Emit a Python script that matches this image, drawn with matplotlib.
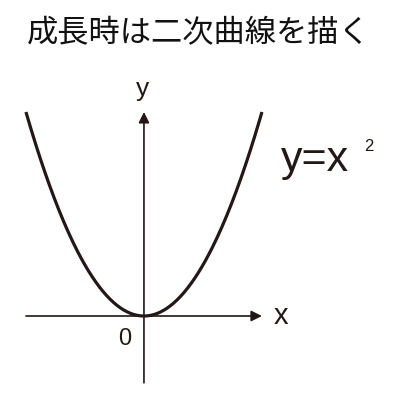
import numpy as np
import matplotlib
matplotlib.use("Agg")
import matplotlib.pyplot as plt

# curve data: y = x^2 drawn from x = -2 .. 2
x_values = np.linspace(-2.0, 2.0, 201)
y_values = x_values ** 2

title_text = "成長時は二次曲線を描く"
formula_text = "y=x"
formula_power = "2"
ink = "#231815"

fig = plt.figure(figsize=(4, 4), dpi=100)
ax = fig.add_axes([0, 0, 1, 1])
ax.set_xlim(-2.44, 4.34)
ax.set_ylim(-1.647, 6.196)
ax.axis("off")

# parabola
ax.plot(x_values, y_values, color=ink, lw=2.3, solid_capstyle="butt")

# axes with arrow heads
arrow = dict(arrowstyle="-|>", color=ink, lw=1.2, mutation_scale=16, shrinkA=0, shrinkB=0)
ax.annotate("", xy=(2.0, 0), xytext=(-2.0, 0), arrowprops=arrow)
ax.annotate("", xy=(0, 4.0), xytext=(0, -1.31), arrowprops=arrow)

# axis labels
ax.text(-0.03, 4.45, "y", fontsize=19, color=ink, family="Liberation Sans",
        ha="center", va="center")
ax.text(2.32, 0.0, "x", fontsize=21, color=ink, family="Liberation Sans",
        ha="center", va="center")
ax.text(-0.33, -0.45, "0", fontsize=17, color=ink, family="Liberation Sans",
        ha="center", va="center")

# formula
ax.text(2.32, 3.06, formula_text, fontsize=31, color=ink, family="Liberation Sans",
        ha="left", va="center")
ax.text(3.73, 3.33, formula_power, fontsize=12, color=ink, family="Liberation Sans",
        ha="left", va="center")

fig.text(0.496, 0.918, title_text, fontsize=22.5, color="#111111",
         family=["Noto Sans CJK JP", "DejaVu Sans"], ha="center", va="center")

fig.savefig("out.png", dpi=100, facecolor="white")
